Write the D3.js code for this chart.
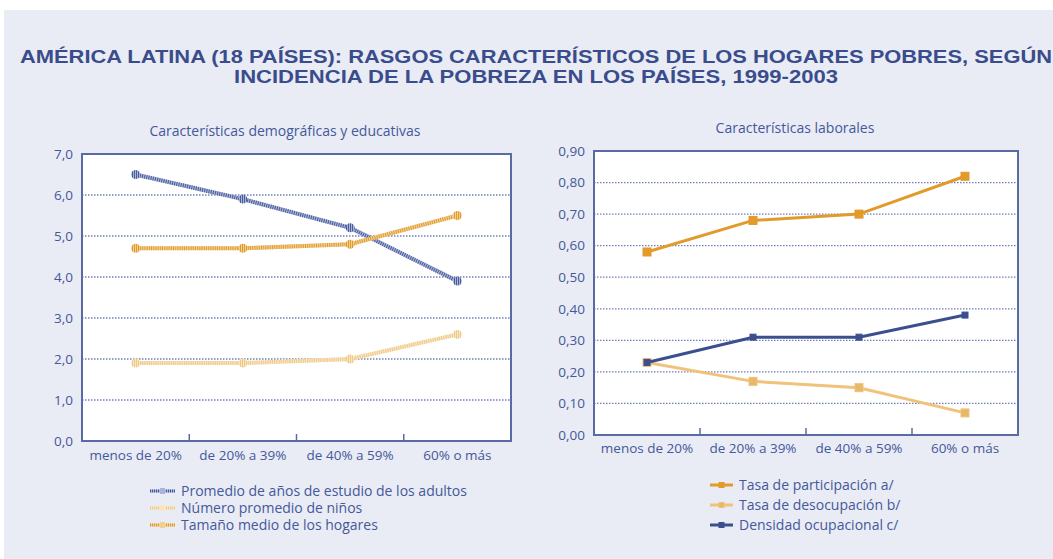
<!DOCTYPE html>
<html>
<head>
<meta charset="utf-8">
<script src="https://cdn.jsdelivr.net/npm/d3@7"></script>
<style>
  body { margin: 0; background: #fff; }
  svg text { font-family: "Open Sans", sans-serif; }
</style>
</head>
<body>
<div id="chart"></div>
<script>
var categories = ["menos de 20%", "de 20% a 39%", "de 40% a 59%", "60% o más"];

// left panel
var estudioAdultos = [6.5, 5.9, 5.2, 3.9];
var ninos = [1.9, 1.9, 2.0, 2.6];
var tamanoHogar = [4.7, 4.7, 4.8, 5.5];
var leftTicks = [0, 1, 2, 3, 4, 5, 6, 7];

// right panel
var participacion = [0.58, 0.68, 0.70, 0.82];
var desocupacion = [0.23, 0.17, 0.15, 0.07];
var densidad = [0.23, 0.31, 0.31, 0.38];
var rightTicks = [0, 0.1, 0.2, 0.3, 0.4, 0.5, 0.6, 0.7, 0.8, 0.9];

var width = 1053, height = 559;
var textColor = "#45589a";

var svg = d3.select("#chart").append("svg")
    .attr("width", width)
    .attr("height", height);

svg.append("rect")
    .attr("x", 4).attr("y", 10)
    .attr("width", width - 4).attr("height", height - 10)
    .attr("fill", "#e9ecf5");

var title = svg.append("text")
    .attr("text-anchor", "middle")
    .attr("fill", "#3a4c8c")
    .style("font-family", "'Liberation Sans', sans-serif")
    .style("font-weight", "bold")
    .style("font-size", "18px");
title.append("tspan").attr("x", 536).attr("y", 63)
    .attr("textLength", 1032).attr("lengthAdjust", "spacingAndGlyphs")
    .text("AMÉRICA LATINA (18 PAÍSES): RASGOS CARACTERÍSTICOS DE LOS HOGARES POBRES, SEGÚN");
title.append("tspan").attr("x", 536).attr("y", 83)
    .attr("textLength", 604).attr("lengthAdjust", "spacingAndGlyphs")
    .text("INCIDENCIA DE LA POBREZA EN LOS PAÍSES, 1999-2003");

var defs = svg.append("defs");
function stripes(id, light, dark) {
  var p = defs.append("pattern")
      .attr("id", id)
      .attr("patternUnits", "userSpaceOnUse")
      .attr("width", 2).attr("height", 2);
  p.append("rect").attr("width", 2).attr("height", 2).attr("fill", light);
  p.append("rect").attr("width", 1).attr("height", 2).attr("fill", dark);
}

function panel(opts) {
  var g = svg.append("g");
  var x = d3.scaleBand().domain(categories).range([opts.x0, opts.x1]);
  var y = d3.scaleLinear().domain(opts.domain).range([opts.y1, opts.y0]);

  g.append("rect")
      .attr("x", opts.x0).attr("y", opts.y0)
      .attr("width", opts.x1 - opts.x0).attr("height", opts.y1 - opts.y0)
      .attr("fill", "#fff");

  // grid
  g.selectAll(".grid")
    .data(opts.ticks.slice(1, -1))
    .enter().append("line")
      .attr("x1", opts.x0).attr("x2", opts.x1)
      .attr("y1", function(d) { return y(d); })
      .attr("y2", function(d) { return y(d); })
      .attr("stroke", "#6f80b8")
      .attr("stroke-width", 1.3)
      .attr("stroke-dasharray", "1.5,1.5");

  // category separators
  g.selectAll(".sep")
    .data(categories.slice(1))
    .enter().append("line")
      .attr("x1", function(d) { return x(d); })
      .attr("x2", function(d) { return x(d); })
      .attr("y1", opts.y1).attr("y2", opts.y1 - 7)
      .attr("stroke", "#5a6ba3").attr("stroke-width", 1.5);

  g.append("rect")
      .attr("x", opts.x0).attr("y", opts.y0)
      .attr("width", opts.x1 - opts.x0).attr("height", opts.y1 - opts.y0)
      .attr("fill", "none")
      .attr("stroke", "#5a6ba3").attr("stroke-width", 2);

  var yAxis = g.append("g")
      .attr("transform", "translate(" + (opts.x0 - 6) + ",0)")
      .call(d3.axisLeft(y).tickValues(opts.ticks).tickSize(0).tickFormat(opts.fmt));
  yAxis.select(".domain").remove();
  yAxis.selectAll("text")
      .attr("fill", textColor)
      .style("font-family", "'Open Sans', sans-serif")
      .style("font-size", "13.5px");

  var xAxis = g.append("g")
      .attr("transform", "translate(0," + opts.y1 + ")")
      .call(d3.axisBottom(x).tickSize(0).tickPadding(opts.xPad));
  xAxis.select(".domain").remove();
  xAxis.selectAll("text")
      .attr("fill", textColor)
      .style("font-family", "'Open Sans', sans-serif")
      .style("font-size", "13.5px");

  g.append("text")
      .attr("x", opts.titleX).attr("y", opts.y0 - 18)
      .attr("text-anchor", "middle")
      .attr("fill", textColor)
      .style("font-size", "14px")
      .text(opts.title);

  return { g: g, x: x, y: y };
}

// ---- left panel
var L = panel({
  x0: 82, x1: 511, y0: 154, y1: 441,
  domain: [0, 7], ticks: leftTicks,
  fmt: function(d) { return d3.format(".1f")(d).replace(".", ","); },
  xPad: 9, title: "Características demográficas y educativas", titleX: 285
});

var leftSeries = [
  { name: "Promedio de años de estudio de los adultos", values: estudioAdultos, light: "#a9b5d8", dark: "#4a5c9a", id: "stA" },
  { name: "Número promedio de niños", values: ninos, light: "#f9e5c0", dark: "#eec98a", id: "stN" },
  { name: "Tamaño medio de los hogares", values: tamanoHogar, light: "#f1cf94", dark: "#e29a2b", id: "stT" }
];
leftSeries.forEach(function(s) { stripes(s.id, s.light, s.dark); });

var lineL = d3.line()
    .x(function(d, i) { return L.x(categories[i]) + L.x.bandwidth() / 2; })
    .y(function(d) { return L.y(d); });

leftSeries.forEach(function(s) {
  L.g.append("path").datum(s.values)
      .attr("d", lineL).attr("fill", "none")
      .attr("stroke", s.light).attr("stroke-width", 4);
  L.g.append("path").datum(s.values)
      .attr("d", lineL).attr("fill", "none")
      .attr("stroke", s.dark).attr("stroke-width", 4)
      .attr("stroke-dasharray", "1,1.2");
  L.g.selectAll(null).data(s.values).enter().append("circle")
      .attr("cx", function(d, i) { return L.x(categories[i]) + L.x.bandwidth() / 2; })
      .attr("cy", function(d) { return L.y(d); })
      .attr("r", 4.5)
      .attr("fill", "url(#" + s.id + ")");
});

var legL = svg.append("g");
leftSeries.forEach(function(s, i) {
  var yy = 491 + i * 17;
  legL.append("line").attr("x1", 150).attr("x2", 175).attr("y1", yy).attr("y2", yy)
      .attr("stroke", s.light).attr("stroke-width", 3);
  legL.append("line").attr("x1", 150).attr("x2", 175).attr("y1", yy).attr("y2", yy)
      .attr("stroke", s.dark).attr("stroke-width", 3).attr("stroke-dasharray", "1,1");
  legL.append("rect").attr("x", 160).attr("y", yy - 3).attr("width", 5).attr("height", 6)
      .attr("fill", s.light);
  legL.append("text").attr("x", 181).attr("y", yy + 5)
      .attr("fill", textColor).style("font-size", "14px").text(s.name);
});

// ---- right panel
var R = panel({
  x0: 594, x1: 1018, y0: 151, y1: 435,
  domain: [0, 0.9], ticks: rightTicks,
  fmt: function(d) { return d3.format(".2f")(d).replace(".", ","); },
  xPad: 8, title: "Características laborales", titleX: 795
});

var rightSeries = [
  { name: "Tasa de participación a/", values: participacion, color: "#e29a2b", fill: "#e29a2b", size: 8 },
  { name: "Tasa de desocupación b/", values: desocupacion, color: "#f0c27a", fill: "#e8b86a", size: 8 },
  { name: "Densidad ocupacional c/", values: densidad, color: "#3b4e90", fill: "#3b4e90", size: 6 }
];

var lineR = d3.line()
    .x(function(d, i) { return R.x(categories[i]) + R.x.bandwidth() / 2; })
    .y(function(d) { return R.y(d); });

[rightSeries[1], rightSeries[0], rightSeries[2]].forEach(function(s) {
  R.g.append("path").datum(s.values)
      .attr("d", lineR).attr("fill", "none")
      .attr("stroke", s.color).attr("stroke-width", 3);
  R.g.selectAll(null).data(s.values).enter().append("rect")
      .attr("x", function(d, i) { return R.x(categories[i]) + R.x.bandwidth() / 2 - s.size / 2; })
      .attr("y", function(d) { return R.y(d) - s.size / 2; })
      .attr("width", s.size).attr("height", s.size)
      .attr("fill", s.fill)
      .attr("stroke", s.color).attr("stroke-width", 1);
});

var legR = svg.append("g");
rightSeries.forEach(function(s, i) {
  var yy = 485 + i * 20;
  legR.append("line").attr("x1", 710).attr("x2", 733).attr("y1", yy).attr("y2", yy)
      .attr("stroke", s.color).attr("stroke-width", 3);
  legR.append("rect").attr("x", 719).attr("y", yy - 2.5).attr("width", 5).attr("height", 5)
      .attr("fill", s.fill).attr("stroke", s.color);
  legR.append("text").attr("x", 739).attr("y", yy + 5)
      .attr("fill", textColor).style("font-size", "14px").text(s.name);
});
</script>
</body>
</html>
